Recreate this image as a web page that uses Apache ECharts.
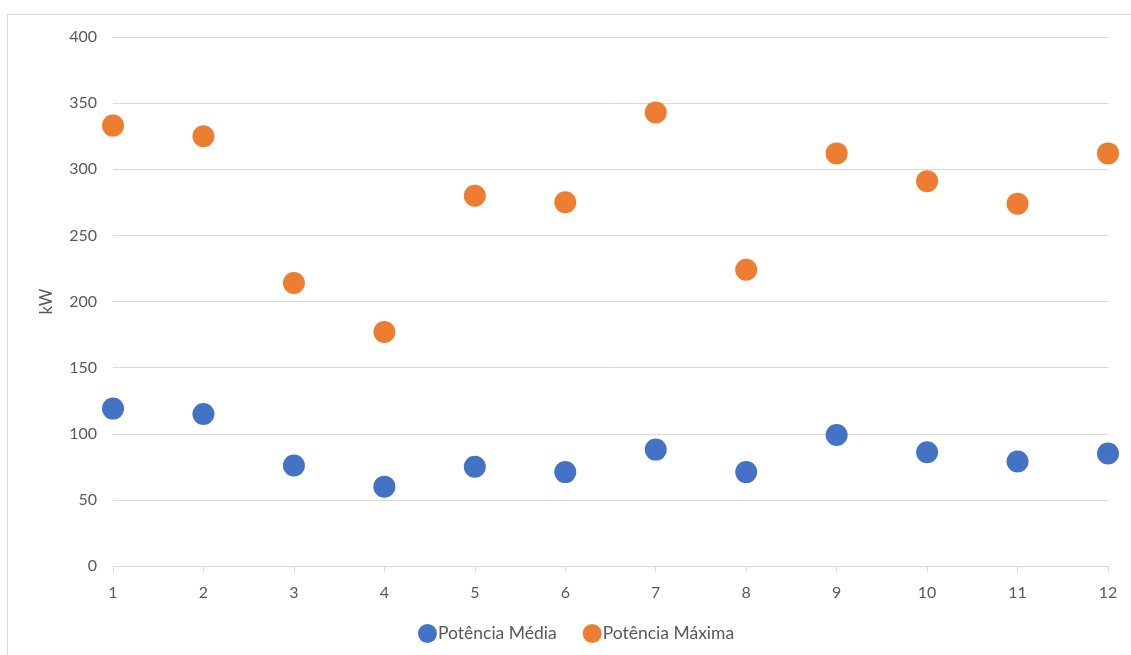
<!DOCTYPE html>
<html>
<head>
<meta charset="utf-8">
<script src="https://cdn.jsdelivr.net/npm/echarts@6/dist/echarts.min.js"></script>
<style>
  html, body { margin: 0; padding: 0; background: #fff; }
  #frame { position: absolute; left: 7px; top: 14px; width: 1140px; height: 660px; border: 1px solid #d9d9d9; box-sizing: border-box; }
  #chart { position: absolute; left: 0; top: 0; width: 1131px; height: 655px; }
</style>
</head>
<body>
<div id="frame"></div>
<div id="chart"></div>
<script>
const months = [1, 2, 3, 4, 5, 6, 7, 8, 9, 10, 11, 12];
const potenciaMedia = [119, 115, 76, 60, 75, 71, 88, 71, 99, 86, 79, 85];
const potenciaMaxima = [333, 325, 214, 177, 280, 275, 343, 224, 312, 291, 274, 312];
const yTicks = [0, 50, 100, 150, 200, 250, 300, 350, 400];

const textColor = '#595959';
const font = 'Lato';

const pairs = (vals) => months.map((m, i) => [m, vals[i]]);

const chart = echarts.init(document.getElementById('chart'), null, { renderer: 'canvas' });
chart.setOption({
  animation: false,
  backgroundColor: 'transparent',
  grid: { left: 113, right: 23, top: 37, bottom: 89, containLabel: false },
  xAxis: {
    type: 'value',
    min: 1, max: 12, interval: 1,
    axisLine: { show: true, lineStyle: { color: '#d9d9d9', width: 1 } },
    axisTick: { show: true, length: 6, lineStyle: { color: '#d9d9d9' } },
    axisLabel: { color: textColor, fontFamily: font, fontSize: 16, margin: 19 },
    splitLine: { show: false }
  },
  yAxis: {
    type: 'value',
    min: yTicks[0], max: yTicks[yTicks.length - 1], interval: 50,
    name: 'kW',
    nameLocation: 'middle',
    nameGap: 58,
    nameRotate: 90,
    nameTextStyle: { color: textColor, fontFamily: font, fontSize: 17 },
    axisLine: { show: false },
    axisTick: { show: false },
    axisLabel: { color: textColor, fontFamily: font, fontSize: 16, margin: 16 },
    splitLine: { show: true, lineStyle: { color: '#d9d9d9', width: 1 } }
  },
  legend: {
    bottom: 7,
    left: 413,
    itemWidth: 19,
    itemHeight: 19,
    itemGap: 26,
    icon: 'circle',
    textStyle: { color: textColor, fontFamily: font, fontSize: 17.5, padding: [0, 0, 0, -4] },
    data: ['Potência Média', 'Potência Máxima']
  },
  series: [
    {
      name: 'Potência Média',
      type: 'scatter',
      symbol: 'circle',
      symbolSize: 22,
      itemStyle: { color: '#4472c4', opacity: 1 },
      data: pairs(potenciaMedia)
    },
    {
      name: 'Potência Máxima',
      type: 'scatter',
      symbol: 'circle',
      symbolSize: 22,
      itemStyle: { color: '#ed7d31', opacity: 1 },
      data: pairs(potenciaMaxima)
    }
  ]
});
</script>
</body>
</html>
